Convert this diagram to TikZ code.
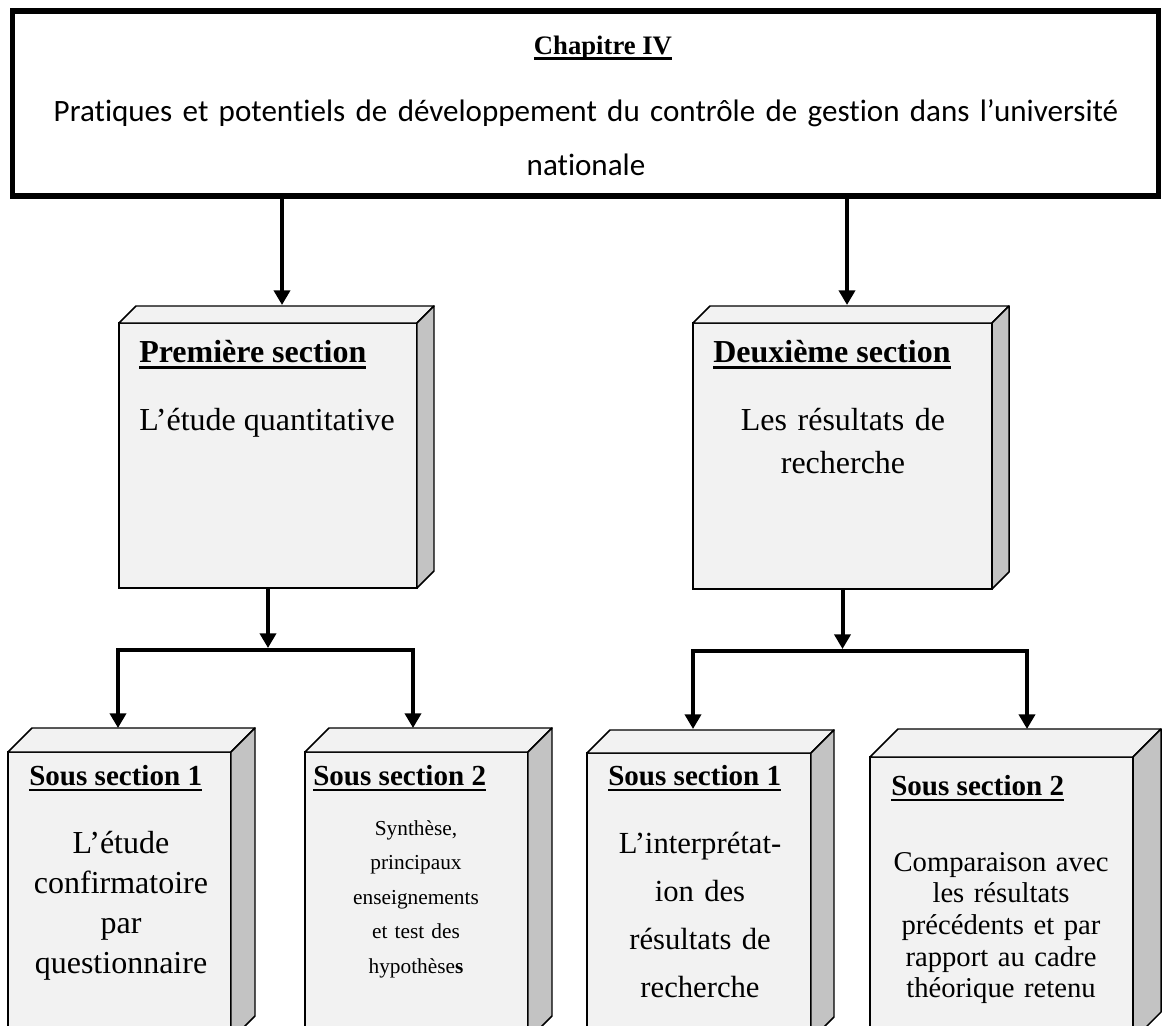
\documentclass[tikz,border=0pt]{standalone}
\usepackage{fontspec}
\setmainfont{Liberation Serif}
\newfontfamily\timesf{Liberation Serif}
\newfontfamily\calib[Ligatures={NoCommon}]{Carlito}
\usetikzlibrary{arrows.meta}

\definecolor{faceF}{HTML}{F2F2F2}
\definecolor{faceS}{HTML}{C3C3C3}

% underline drawn as a rule below the text
\newsavebox\ulbox
\newcommand\ulbar[1]{\sbox\ulbox{#1}\rlap{\rule[-0.22em]{\wd\ulbox}{0.09em}}\usebox\ulbox}

\tikzset{
  boxfront/.style={rectangle, draw, line width=1.1pt, fill=faceF, inner sep=0pt, outer sep=0pt},
  topface/.style={draw, line width=1.1pt, fill=faceF, line join=round},
  sideface/.style={draw, line width=1.1pt, fill=faceS, line join=round},
  chapbox/.style={rectangle, draw, line width=4.4pt, fill=white, inner sep=0pt, outer sep=0pt},
  arr/.style={line width=3pt, -{Triangle[length=11pt,width=12pt]}},
  head/.style={anchor=base west, inner sep=0pt, font=\timesf\bfseries\fontsize{#1}{#1}\selectfont},
  body/.style={anchor=base, inner sep=0pt, align=center},
}

% solid box: name, left, top, right, bottom, depth (in pixel units)
\newcommand\solidbox[6]{%
  \node[boxfront, minimum width={(#4-#2)*0.75pt}, minimum height={(#5-#3)*0.75pt}] (#1) at ({(#2+#4)/2},{(#3+#5)/2}) {};
  \draw[topface] (#1.north west) -- ++(#6,-#6) -- ([shift={(#6,-#6)}]#1.north east) -- (#1.north east) -- cycle;
  \draw[sideface] (#1.north east) -- ++(#6,-#6) -- ([shift={(#6,-#6)}]#1.south east) -- (#1.south east) -- cycle;
}

\begin{document}
\begin{tikzpicture}[x=0.75pt, y=-0.75pt]
\fill[white] (0,0) rectangle (1162,1025);
\clip (0,0) rectangle (1162,1025);

% chapter banner
\node[chapbox, minimum width={1146*0.75pt}, minimum height={185*0.75pt}] (chap) at (585.5,103.5) {};
\node[anchor=base, inner sep=0pt, font=\timesf\bfseries\fontsize{20}{23}\selectfont] (chaptitle) at (603,54) {\ulbar{Chapitre IV}};
\node[body, text width={1130*0.75pt}, font=\calib\fontsize{23.3}{40.5}\selectfont] (chaptext) at (586,121)
  {Pratiques et potentiels de développement du contrôle de gestion dans l’université\\nationale};

% sections
\solidbox{s1}{119}{323}{417}{588}{17}
\solidbox{s2}{693}{323}{992}{589}{17}

\node[head=24] (s1head) at (139,362) {\ulbar{Première section}};
\node[anchor=base west, inner sep=0pt, font=\timesf\fontsize{24}{24}\selectfont] (s1text) at (139,430) {L’étude quantitative};
\node[head=24] (s2head) at (713,362) {\ulbar{Deuxième section}};
\node[body, text width={280*0.75pt}, font=\timesf\fontsize{24}{32.3}\selectfont] (s2text) at (843,430) {Les résultats de\\recherche};

% sub-sections
\solidbox{b1}{8}{752}{231}{1040}{24}
\solidbox{b2}{305}{752}{528}{1040}{24}
\solidbox{b3}{587}{753}{811}{1040}{23}
\solidbox{b4}{870}{757}{1133}{1040}{28}

\node[head=21.8] (b1head) at (29,785) {\ulbar{Sous section 1}};
\node[body, text width={220*0.75pt}, font=\timesf\fontsize{24}{30}\selectfont] (b1text) at (121,853)
  {L’étude\\confirmatoire\\par\\questionnaire};

\node[head=21.8] (b2head) at (313,785) {\ulbar{Sous section 2}};
\node[body, text width={220*0.75pt}, font=\timesf\fontsize{16}{25.9}\selectfont] (b2text) at (416,835)
  {Synthèse,\\principaux\\enseignements\\et test des\\hypothèse\textbf{s}};

\node[head=21.8] (b3head) at (608,785) {\ulbar{Sous section 1}};
\node[body, text width={220*0.75pt}, font=\timesf\fontsize{23}{36}\selectfont] (b3text) at (700,853)
  {L’interprétat-\\ion des\\résultats de\\recherche};

\node[head=21.8] (b4head) at (891,795) {\ulbar{Sous section 2}};
\node[body, text width={260*0.75pt}, font=\timesf\fontsize{21.5}{23.8}\selectfont] (b4text) at (1001,871)
  {Comparaison avec\\les résultats\\précédents et par\\rapport au cadre\\théorique retenu};

% connector end points
\coordinate (s1in) at (282,305);
\coordinate (s2in) at (847,305);
\coordinate (j1) at (268,650);
\coordinate (j2) at (842.5,651);
\coordinate (b1in) at (118,728);
\coordinate (b2in) at (413,728);
\coordinate (b3in) at (693,729);
\coordinate (b4in) at (1027,729);

% connectors
\draw[arr] (chap.south -| s1in) -- (s1in);
\draw[arr] (chap.south -| s2in) -- (s2in);
\draw[arr] (s1.south) -- ([yshift=1.5pt]j1);
\draw[arr] (s2.south) -- ([yshift=1.5pt]j2);
\draw[arr] (j1) -| (b1in);
\draw[arr] (j1) -| (b2in);
\draw[arr] (j2) -| (b3in);
\draw[arr] (j2) -| (b4in);
\end{tikzpicture}
\end{document}
